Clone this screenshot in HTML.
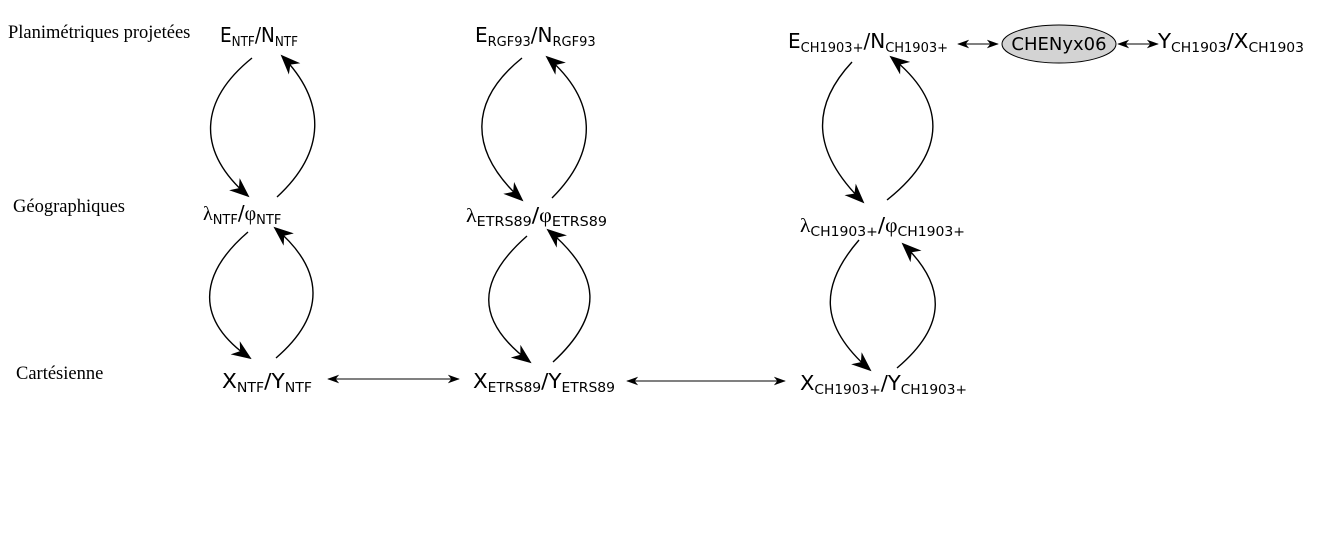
<!DOCTYPE html>
<html><head><meta charset="utf-8">
<style>
html,body{margin:0;padding:0;background:#fff;}
svg{display:block;}
.lab{font-family:"Liberation Serif",serif;font-size:18.5px;fill:#000;}
.n{font-family:"DejaVu Sans","Liberation Sans",sans-serif;font-size:20px;fill:#000;}
.s{font-size:13px;}
.g{font-family:"Liberation Serif",serif;}
.c{fill:none;stroke:#000;stroke-width:1.4;}
.h{fill:none;stroke:#000;stroke-width:1.1;}
</style></head>
<body>
<svg width="1323" height="533" viewBox="0 0 1323 533" xmlns="http://www.w3.org/2000/svg">
<defs>
<marker id="big" viewBox="0 0 20 16" refX="18" refY="8" markerWidth="20" markerHeight="16" markerUnits="userSpaceOnUse" orient="auto">
<path d="M0,0 L20,8 L0,16 L6,8 Z" fill="#000"/>
</marker>
<marker id="sm" viewBox="0 0 14 10" refX="13" refY="5" markerWidth="12" markerHeight="9" markerUnits="userSpaceOnUse" orient="auto-start-reverse">
<path d="M0,0 L14,5 L0,10 L4,5 Z" fill="#000"/>
</marker>
</defs>

<text class="lab" x="8" y="38">Planimétriques projetées</text>
<text class="lab" x="13" y="212">Géographiques</text>
<text class="lab" x="16" y="379">Cartésienne</text>

<text class="n" x="220" y="42" textLength="78" lengthAdjust="spacingAndGlyphs">E<tspan class="s" dy="4">NTF</tspan><tspan dy="-4">/N</tspan><tspan class="s" dy="4">NTF</tspan></text>
<text class="n" x="475" y="42">E<tspan class="s" dy="4">RGF93</tspan><tspan dy="-4">/N</tspan><tspan class="s" dy="4">RGF93</tspan></text>
<text class="n" x="788" y="48">E<tspan class="s" dy="4">CH1903+</tspan><tspan dy="-4">/N</tspan><tspan class="s" dy="4">CH1903+</tspan></text>
<ellipse cx="1059" cy="44" rx="57" ry="19" fill="#d3d3d3" stroke="#000" stroke-width="1"/>
<text class="n" x="1059" y="50" text-anchor="middle" style="font-size:18px">CHENyx06</text>
<text class="n" x="1158" y="48" textLength="146" lengthAdjust="spacingAndGlyphs">Y<tspan class="s" dy="4">CH1903</tspan><tspan dy="-4">/X</tspan><tspan class="s" dy="4">CH1903</tspan></text>

<text class="n" x="203" y="220"><tspan class="g">λ</tspan><tspan class="s" dy="4">NTF</tspan><tspan dy="-4">/</tspan><tspan class="g">φ</tspan><tspan class="s" dy="4">NTF</tspan></text>
<text class="n" x="466" y="222" textLength="141" lengthAdjust="spacingAndGlyphs"><tspan class="g">λ</tspan><tspan class="s" dy="4">ETRS89</tspan><tspan dy="-4">/</tspan><tspan class="g">φ</tspan><tspan class="s" dy="4">ETRS89</tspan></text>
<text class="n" x="800" y="232" textLength="165" lengthAdjust="spacingAndGlyphs"><tspan class="g">λ</tspan><tspan class="s" dy="4">CH1903+</tspan><tspan dy="-4">/</tspan><tspan class="g">φ</tspan><tspan class="s" dy="4">CH1903+</tspan></text>

<text class="n" x="222" y="388" textLength="90" lengthAdjust="spacingAndGlyphs">X<tspan class="s" dy="4">NTF</tspan><tspan dy="-4">/Y</tspan><tspan class="s" dy="4">NTF</tspan></text>
<text class="n" x="473" y="388" textLength="142" lengthAdjust="spacingAndGlyphs">X<tspan class="s" dy="4">ETRS89</tspan><tspan dy="-4">/Y</tspan><tspan class="s" dy="4">ETRS89</tspan></text>
<text class="n" x="800" y="390" textLength="167" lengthAdjust="spacingAndGlyphs">X<tspan class="s" dy="4">CH1903+</tspan><tspan dy="-4">/Y</tspan><tspan class="s" dy="4">CH1903+</tspan></text>

<path class="c" d="M252,58 C200,100 195,150 248,196" marker-end="url(#big)"/>
<path class="c" d="M277,197 C328,150 325,100 282,56" marker-end="url(#big)"/>
<path class="c" d="M248,232 C198,275 195,320 250,358" marker-end="url(#big)"/>
<path class="c" d="M276,358 C326,315 325,270 275,228" marker-end="url(#big)"/>
<path class="c" d="M522,58 C470,100 467,150 522,200" marker-end="url(#big)"/>
<path class="c" d="M552,198 C600,150 597,100 547,57" marker-end="url(#big)"/>
<path class="c" d="M527,236 C477,280 474,320 530,362" marker-end="url(#big)"/>
<path class="c" d="M553,362 C604,315 602,275 548,230" marker-end="url(#big)"/>
<path class="c" d="M852,62 C812,105 810,150 863,202" marker-end="url(#big)"/>
<path class="c" d="M887,200 C950,150 945,100 891,57" marker-end="url(#big)"/>
<path class="c" d="M859,240 C820,285 818,325 870,370" marker-end="url(#big)"/>
<path class="c" d="M897,368 C948,325 946,285 903,244" marker-end="url(#big)"/>
<path class="h" d="M328,379 L459,379" marker-start="url(#sm)" marker-end="url(#sm)"/>
<path class="h" d="M627,381 L785,381" marker-start="url(#sm)" marker-end="url(#sm)"/>
<path class="h" d="M958,44 L998,44" marker-start="url(#sm)" marker-end="url(#sm)"/>
<path class="h" d="M1118,44 L1158,44" marker-start="url(#sm)" marker-end="url(#sm)"/>
</svg>
</body></html>
